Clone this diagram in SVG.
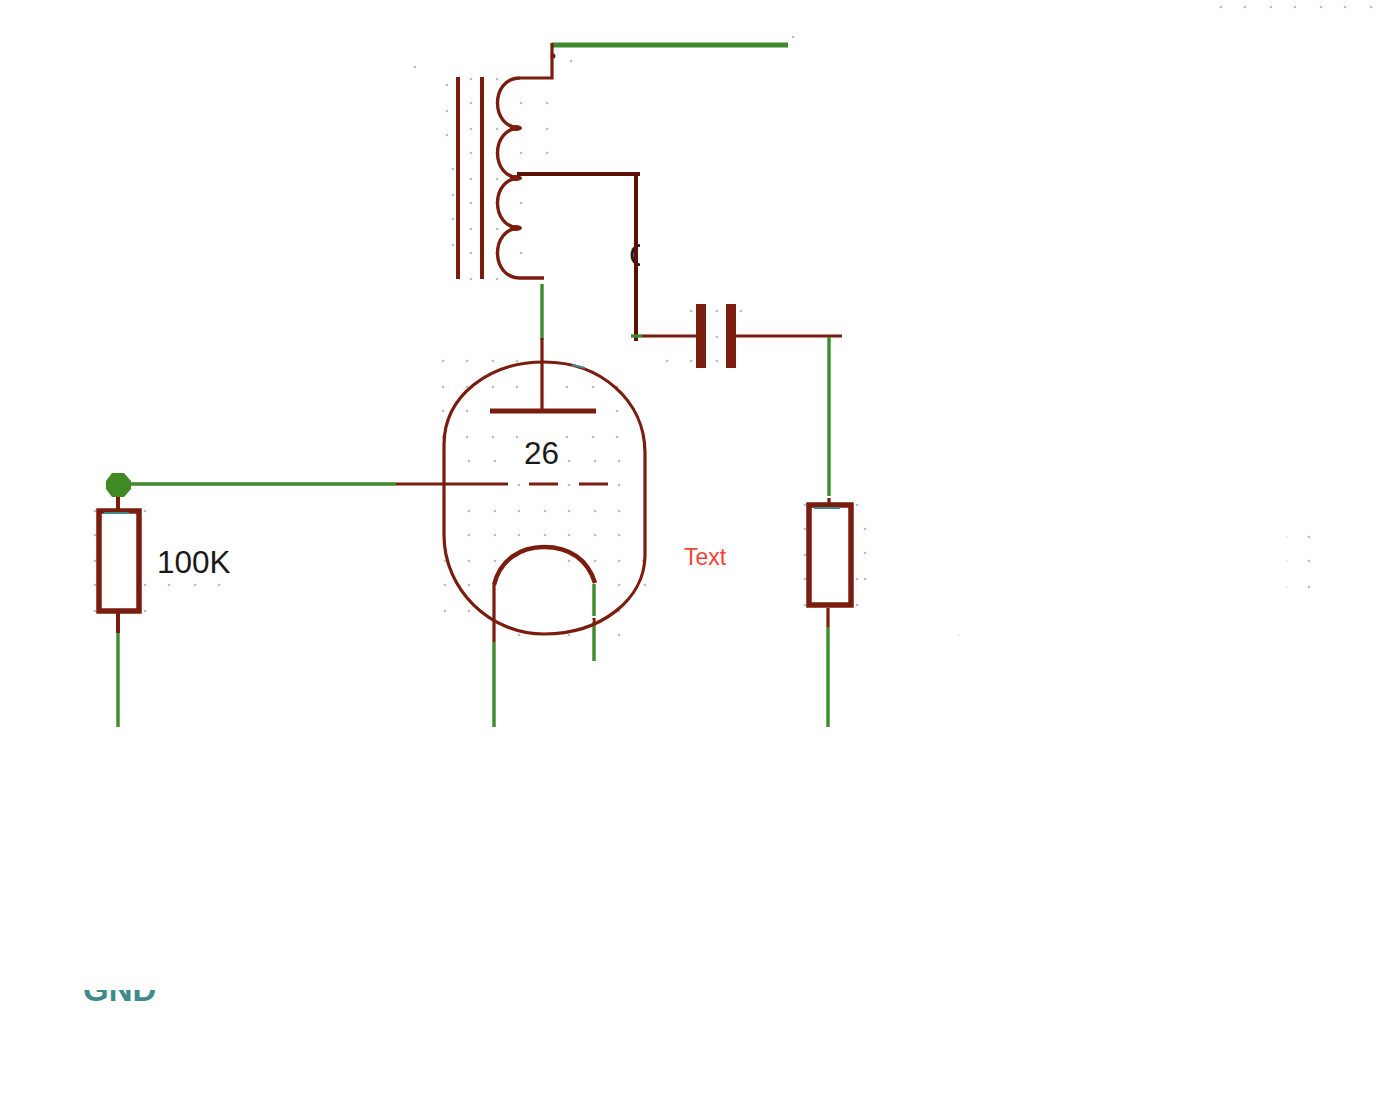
<svg xmlns="http://www.w3.org/2000/svg" width="1392" height="1094" viewBox="0 0 1392 1094">
<style>
.b{fill:none;stroke:#7a1c0e;stroke-width:3.2}
.g{fill:none;stroke:#3f8a2c;stroke-width:3.4}
.d{fill:none;stroke:#5a1208;stroke-width:4}
.t{fill:none;stroke:#3d8b8b;stroke-width:2}
.dots{fill:none;stroke:#bcbcbc;stroke-width:2.6;stroke-linecap:round}
.lbl{font-family:"Liberation Sans",Arial,sans-serif;font-size:31.5px;fill:#1a1a1a}
</style>
<defs>
<clipPath id="cg"><rect x="60" y="990" width="120" height="30"/></clipPath>
<clipPath id="cc"><rect x="620" y="235" width="20" height="40"/></clipPath>
</defs>
<rect width="1392" height="1094" fill="#fff"/>
<path class="dots" d="M415 67h0M571 61h0M793 37h0M447 85h0M471 79h0M497 79h0M471 103h0M497 103h0M521 103h0M547 103h0M447 111h0M471 129h0M497 129h0M547 129h0M447 135h0M471 153h0M497 153h0M521 153h0M547 153h0M453 169h0M471 179h0M497 179h0M453 195h0M471 203h0M497 203h0M521 203h0M453 219h0M471 229h0M497 229h0M453 245h0M471 253h0M497 253h0M521 253h0M471 279h0M497 279h0M691 311h0M717 311h0M741 311h0M717 337h0M443 361h0M467 361h0M493 361h0M517 361h0M667 361h0M691 361h0M717 361h0M443 387h0M467 387h0M493 387h0M517 387h0M567 387h0M593 387h0M617 387h0M443 411h0M467 411h0M617 411h0M443 437h0M467 437h0M493 437h0M517 437h0M567 437h0M593 437h0M617 437h0M643 437h0M469 461h0M495 461h0M569 461h0M595 461h0M619 461h0M519 485h0M569 485h0M619 485h0M469 511h0M495 511h0M519 511h0M545 511h0M569 511h0M595 511h0M619 511h0M469 535h0M495 535h0M519 535h0M545 535h0M569 535h0M595 535h0M619 535h0M445 561h0M469 561h0M495 561h0M569 561h0M595 561h0M619 561h0M643 561h0M445 585h0M469 585h0M619 585h0M645 585h0M445 611h0M469 611h0M619 611h0M519 635h0M569 635h0M619 635h0M95 511h0M145 511h0M95 535h0M95 561h0M95 585h0M145 585h0M169 585h0M195 585h0M219 585h0M95 611h0M145 611h0M805 505h0M857 505h0M805 529h0M865 529h0M805 555h0M865 553h0M805 579h0M857 579h0M865 579h0M805 605h0M857 605h0M1221 7h0M1245 7h0M1271 7h0M1295 7h0M1321 7h0M1345 7h0M1371 7h0M1309 537h0M1309 561h0M1309 587h0"/>
<path fill="none" stroke="#ededed" stroke-width="2.6" stroke-linecap="round" d="M1287 537h0M1287 561h0M1287 587h0M959 635h0"/>
<g id="connectors">
<path class="g" style="stroke-width:5" d="M552 45H788"/>
<path class="b" d="M552 43V78H520"/>
<path class="d" d="M517 174H640M636 174V341"/>
<path class="g" d="M542 284V340"/>
<path class="b" d="M542 338V410"/>
<path class="g" d="M631 336H642"/>
<path class="b" d="M642 336H696M736 336H842"/>
<path class="g" d="M829 337V496"/>
<path class="b" d="M829 498V503M828 608V627"/>
<path class="g" d="M828 627V727"/>
<path class="g" style="stroke-width:3.6" d="M130 484H396"/>
<path class="b" d="M396 484H508M529 484H558M579 484H608"/>
<path class="b" style="stroke-width:4" d="M118 496V509M118 613V633"/>
<path class="g" d="M118 633V727"/>
<path class="b" d="M494 585V642"/>
<path class="g" d="M494 642V727"/>
<path class="g" d="M594 584V616M594 625V661"/>
<path class="b" d="M594 618V625"/>
</g>
<g id="transformer">
<path class="b" style="stroke-width:4" d="M458 77V279M482 77V279"/>
<path class="b" style="stroke-width:3.4" d="M544 278H520C490 278 490 228 520 228C490 228 490 178 520 178C490 178 490 128 520 128C490 128 490 78 520 78"/>
<ellipse cx="516" cy="128" rx="6" ry="3" fill="#7a1c0e"/>
<ellipse cx="516" cy="178" rx="6" ry="3" fill="#7a1c0e"/>
<ellipse cx="516" cy="228" rx="6" ry="3" fill="#7a1c0e"/>
<circle cx="553" cy="56" r="2.5" fill="#7a1c0e"/>
</g>
<g id="cap-label"><text class="lbl" x="629" y="266" clip-path="url(#cc)">C</text></g>
<path class="d" d="M636 236V275"/>
<g id="capacitor">
<rect x="696" y="304" width="10" height="64" fill="#7a1c0e"/>
<rect x="726" y="304" width="10" height="64" fill="#7a1c0e"/>
</g>
<g id="tube">
<path class="b" d="M444 535V445C444 395 490 362 544 362C600 362 645 400 645 453V555C645 600 600 634 544 634C490 634 444 590 444 535"/>
<path fill="none" stroke="#fff" stroke-width="5" d="M588 621L592 619"/>
<path class="t" d="M572 365L585 368"/>
<path class="b" style="stroke-width:5" d="M490 411H596"/>
<path class="b" style="stroke-width:4.4" d="M494 585C500 560 520 547 544 547C570 547 588 560 595 583"/>
<text class="lbl" x="524" y="464">26</text>
</g>
<g id="r1">
<polygon points="112,473 124,473 131,481 131,489 124,497 112,497 106,489 106,481" fill="#3f8a22"/>
<rect x="99" y="511" width="40" height="100" fill="none" stroke="#7a1c0e" stroke-width="5.5"/>
<path class="t" d="M104 513H129"/>
<text class="lbl" x="157" y="573">100K</text>
</g>
<g id="r2">
<rect x="809" y="505" width="42" height="100" fill="none" stroke="#7a1c0e" stroke-width="5.5"/>
<path class="t" d="M814 508H840"/>
</g>
<g id="note"><text x="684" y="565" font-family="Liberation Sans, Arial, sans-serif" font-size="23" fill="#f44336">Text</text></g>
<g id="gnd"><text x="83" y="1001" clip-path="url(#cg)" font-family="Liberation Sans, Arial, sans-serif" font-size="33" font-weight="bold" fill="#3d8b8b">GND</text></g>
</svg>
